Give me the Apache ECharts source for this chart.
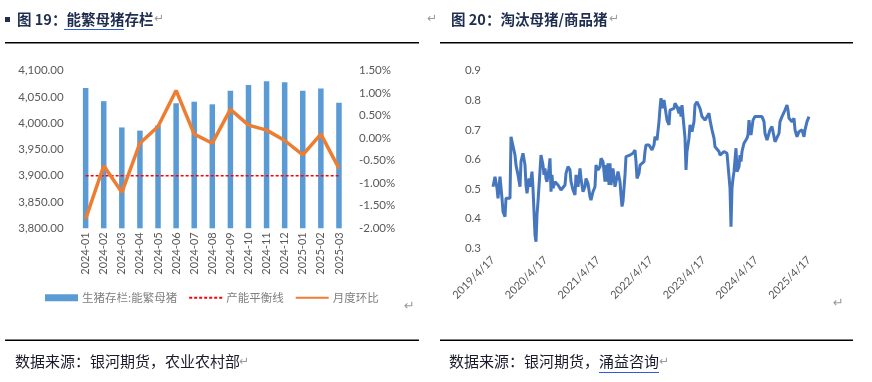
<!DOCTYPE html>
<html><head><meta charset="utf-8">
<script src="https://cdn.jsdelivr.net/npm/echarts@6/dist/echarts.min.js"></script>
<style>html,body{margin:0;padding:0;background:#fff;}#c{width:872px;height:382px;}</style>
</head><body><div id="c"></div>
<script>
// ---- Figure 19 data ----
const months = ['2024-01','2024-02','2024-03','2024-04','2024-05','2024-06','2024-07','2024-08','2024-09','2024-10','2024-11','2024-12','2025-01','2025-02','2025-03'];
const sowStock = [4067,4042,3992,3986,3996,4038,4041,4036,4062,4073,4080,4078,4062,4066,4039];
const balanceLine = [3900,3900,3900,3900,3900,3900,3900,3900,3900,3900,3900,3900,3900,3900,3900];
const momChange = [-1.79,-0.61,-1.20,-0.11,0.26,1.06,0.09,-0.11,0.64,0.29,0.18,-0.05,-0.37,0.09,-0.67];
const seriesNames = ['生猪存栏:能繁母猪','产能平衡线','月度环比'];

// ---- Figure 20 data (week index since 2019/4/17, ratio) ----
const ratioWeek = [0,2,3,4,5,7,8,9,10,12,13,15,17,18,20,22,23,25,27,28,30,32,33,34,36,37,39,40,41,42,43,44,45,47,48,50,51,52,53,54,56,57,58,59,60,62,63,65,67,68,70,72,73,75,77,78,80,82,83,85,87,88,90,92,93,95,97,98,100,102,103,105,107,108,110,112,113,114,115,116,117,118,120,122,123,125,127,128,129,130,132,133,135,137,138,140,142,143,144,146,147,149,151,152,153,154,156,
157,159,161,162,164,166,167,168,170,171,172,174,176,177,179,181,182,184,186,187,188,189,191,192,193,194,196,197,199,201,202,204,206,207,209,211,212,214,216,217,219,221,222,224,226,227,229,231,232,234,236,237,238,239,240,241,243,244,246,247,248,249,251,252,254,255,256,257,258,260,261,262,264,266,267,269,271,272,274,276,277,279,281,282,284,286,287,289,291,292,294,295,296,297,299,301,302,304,306,307,309,311,312,314,316];
const ratioValue = [0.508,0.542,0.536,0.503,0.469,0.542,0.548,0.469,0.424,0.407,0.469,0.471,0.469,0.677,0.672,0.615,0.581,0.548,0.508,0.593,0.621,0.581,0.514,0.486,0.536,0.508,0.559,0.503,0.424,0.345,0.322,0.413,0.458,0.452,0.615,0.581,0.548,0.570,0.536,0.525,0.570,0.604,0.491,0.548,0.503,0.525,0.519,0.514,0.514,0.497,0.503,0.514,0.553,0.576,0.565,0.525,0.497,0.480,0.548,0.508,0.570,0.536,0.491,0.508,0.536,0.519,0.474,0.463,0.491,0.508,0.581,0.565,0.576,0.604,0.593,0.525,0.581,0.525,0.587,0.514,0.587,0.514,0.570,0.508,0.525,0.559,0.525,0.480,0.441,0.458,0.548,0.610,0.610,0.615,0.610,0.621,0.632,0.593,0.536,0.553,0.581,0.587,0.593,0.627,0.649,0.655,0.649,
0.649,0.632,0.649,0.677,0.666,0.728,0.773,0.807,0.773,0.801,0.807,0.733,0.717,0.767,0.767,0.773,0.790,0.778,0.756,0.778,0.745,0.784,0.790,0.672,0.565,0.627,0.672,0.717,0.694,0.728,0.784,0.795,0.790,0.773,0.745,0.745,0.733,0.728,0.756,0.733,0.700,0.672,0.643,0.638,0.627,0.615,0.621,0.627,0.632,0.621,0.615,0.503,0.373,0.503,0.536,0.559,0.638,0.559,0.576,0.615,0.593,0.627,0.655,0.660,0.672,0.683,0.733,0.705,0.683,0.733,0.733,0.745,0.750,0.745,0.750,0.745,0.728,0.688,0.666,0.666,0.700,0.711,0.677,0.660,0.666,0.688,0.728,0.745,0.750,0.767,0.784,0.767,0.739,0.745,0.728,0.739,0.700,0.677,0.694,0.694,0.700,0.677,0.700,0.728,0.745];
const ratioTickLabels = ['2019/4/17','2020/4/17','2021/4/17','2022/4/17','2023/4/17','2024/4/17','2025/4/17'];
const ratioAxisMax = 316;

const chart = echarts.init(document.getElementById('c'), null, {renderer:'canvas'});
const gray = '#595959';
const cjk = '"Noto Sans CJK SC", sans-serif';
const num = 'Lato, "Open Sans", sans-serif';
const titleColor = '#1F2D4F';
const yearStep = ratioAxisMax / (ratioTickLabels.length - 1);

function fmtThousands(v){
  return v.toFixed(2).replace(/\B(?=(\d{3})+(?!\d))/g, ',');
}

const option = {
  animation:false,
  backgroundColor:'#fff',
  grid:[
    {left:76.6, top:70.7, width:271.4, height:157.6},
    {left:493, top:70.7, width:316, height:177.6}
  ],
  legend:{
    left:40, top:287, itemWidth:33, itemHeight:7, itemGap:11,
    data:[
      {name:seriesNames[0], icon:'rect'},
      {name:seriesNames[1], itemStyle:{opacity:0}},
      {name:seriesNames[2], itemStyle:{opacity:0}}
    ],
    textStyle:{color:'#7F7F7F', fontSize:11.5, fontFamily:cjk, padding:[0,0,0,-1]}
  },
  xAxis:[
    {gridIndex:0, type:'category', data:months,
     axisLine:{show:false}, axisTick:{show:false},
     axisLabel:{rotate:90, margin:4, color:gray, fontSize:11, fontFamily:num, interval:0}},
    {gridIndex:1, type:'value', min:0, max:ratioAxisMax, interval:yearStep,
     axisLine:{show:false}, axisTick:{show:false}, splitLine:{show:false},
     axisLabel:{rotate:45, margin:10, color:gray, fontSize:11, fontFamily:num, showMaxLabel:true, showMinLabel:true,
       formatter:function(v){ return ratioTickLabels[Math.round(v / yearStep)] || ''; }}}
  ],
  yAxis:[
    {gridIndex:0, type:'value', min:3800, max:4100, interval:50,
     axisLine:{show:false}, axisTick:{show:false}, splitLine:{show:false},
     axisLabel:{margin:13, color:gray, fontSize:11.5, fontFamily:num, formatter:fmtThousands}},
    {gridIndex:0, type:'value', min:-2, max:1.5, interval:0.5, position:'right',
     axisLine:{show:false}, axisTick:{show:false}, splitLine:{show:false},
     axisLabel:{margin:11, color:gray, fontSize:11.5, fontFamily:num, formatter:function(v){return v.toFixed(2)+'%';}}},
    {gridIndex:1, type:'value', min:0.3, max:0.9, interval:0.1,
     axisLine:{show:false}, axisTick:{show:false}, splitLine:{show:false},
     axisLabel:{margin:12, color:gray, fontSize:11.5, fontFamily:num, formatter:function(v){return v.toFixed(1);}}}
  ],
  series:[
    {name:seriesNames[0], type:'bar', xAxisIndex:0, yAxisIndex:0, data:sowStock, barWidth:5.5,
     itemStyle:{color:'#5B9BD5'}},
    {name:seriesNames[1], type:'line', xAxisIndex:0, yAxisIndex:0, data:balanceLine, symbol:'none',
     lineStyle:{color:'#FF0000', width:1.3, type:[3,2]}, itemStyle:{color:'#FF0000'}},
    {name:seriesNames[2], type:'line', xAxisIndex:0, yAxisIndex:1, data:momChange, symbol:'none',
     lineStyle:{color:'#ED7D31', width:3.5}, itemStyle:{color:'#ED7D31'}},
    {name:'淘汰母猪/商品猪', type:'line', xAxisIndex:1, yAxisIndex:2, symbol:'none',
     data:ratioWeek.map(function(w,i){return [w, ratioValue[i]];}),
     lineStyle:{color:'#4676BE', width:3}, itemStyle:{color:'#4676BE'}}
  ],
  graphic:[
    {type:'rect', shape:{x:5, y:17, width:5, height:5}, style:{fill:'#1F2D4F'}},
    {type:'text', left:17, top:12, style:{text:'图 19：能繁母猪存栏', fill:titleColor, font:'bold 14.5px "Noto Sans CJK SC", sans-serif'}},
    {type:'rect', shape:{x:64, y:29, width:60, height:1}, style:{fill:'#2E5BD6'}},
    {type:'text', left:154, top:13, style:{text:'↵', fill:'#9A9A9A', font:'12px "DejaVu Sans", sans-serif'}},
    {type:'text', left:427, top:13, style:{text:'↵', fill:'#9A9A9A', font:'12px "DejaVu Sans", sans-serif'}},
    {type:'text', left:451, top:12, style:{text:'图 20：淘汰母猪/商品猪', fill:titleColor, font:'bold 14.5px "Noto Sans CJK SC", sans-serif'}},
    {type:'text', left:609, top:13, style:{text:'↵', fill:'#9A9A9A', font:'12px "DejaVu Sans", sans-serif'}},
    {type:'rect', shape:{x:5, y:42, width:414, height:1.5}, style:{fill:'#000'}},
    {type:'rect', shape:{x:440, y:42, width:413, height:1.5}, style:{fill:'#000'}},
    {type:'text', left:404, top:300, style:{text:'↵', fill:'#9A9A9A', font:'13px "DejaVu Sans", sans-serif'}},
    {type:'text', left:833, top:297, style:{text:'↵', fill:'#9A9A9A', font:'13px "DejaVu Sans", sans-serif'}},
    {type:'rect', shape:{x:5, y:339.5, width:414, height:1.5}, style:{fill:'#000'}},
    {type:'rect', shape:{x:440, y:339.5, width:413, height:1.5}, style:{fill:'#000'}},
    {type:'text', left:15, top:354, style:{text:'数据来源：银河期货，农业农村部', fill:'#1a1a2a', font:'15px "Noto Sans CJK SC", sans-serif'}},
    {type:'text', left:239, top:356, style:{text:'↵', fill:'#9A9A9A', font:'12px "DejaVu Sans", sans-serif'}},
    {type:'text', left:449, top:354, style:{text:'数据来源：银河期货，涌益咨询', fill:'#1a1a2a', font:'15px "Noto Sans CJK SC", sans-serif'}},
    {type:'rect', shape:{x:599, y:372, width:60, height:1}, style:{fill:'#2E5BD6'}},
    {type:'text', left:659, top:356, style:{text:'↵', fill:'#9A9A9A', font:'12px "DejaVu Sans", sans-serif'}}
  ]
};
chart.setOption(option);
</script></body></html>
